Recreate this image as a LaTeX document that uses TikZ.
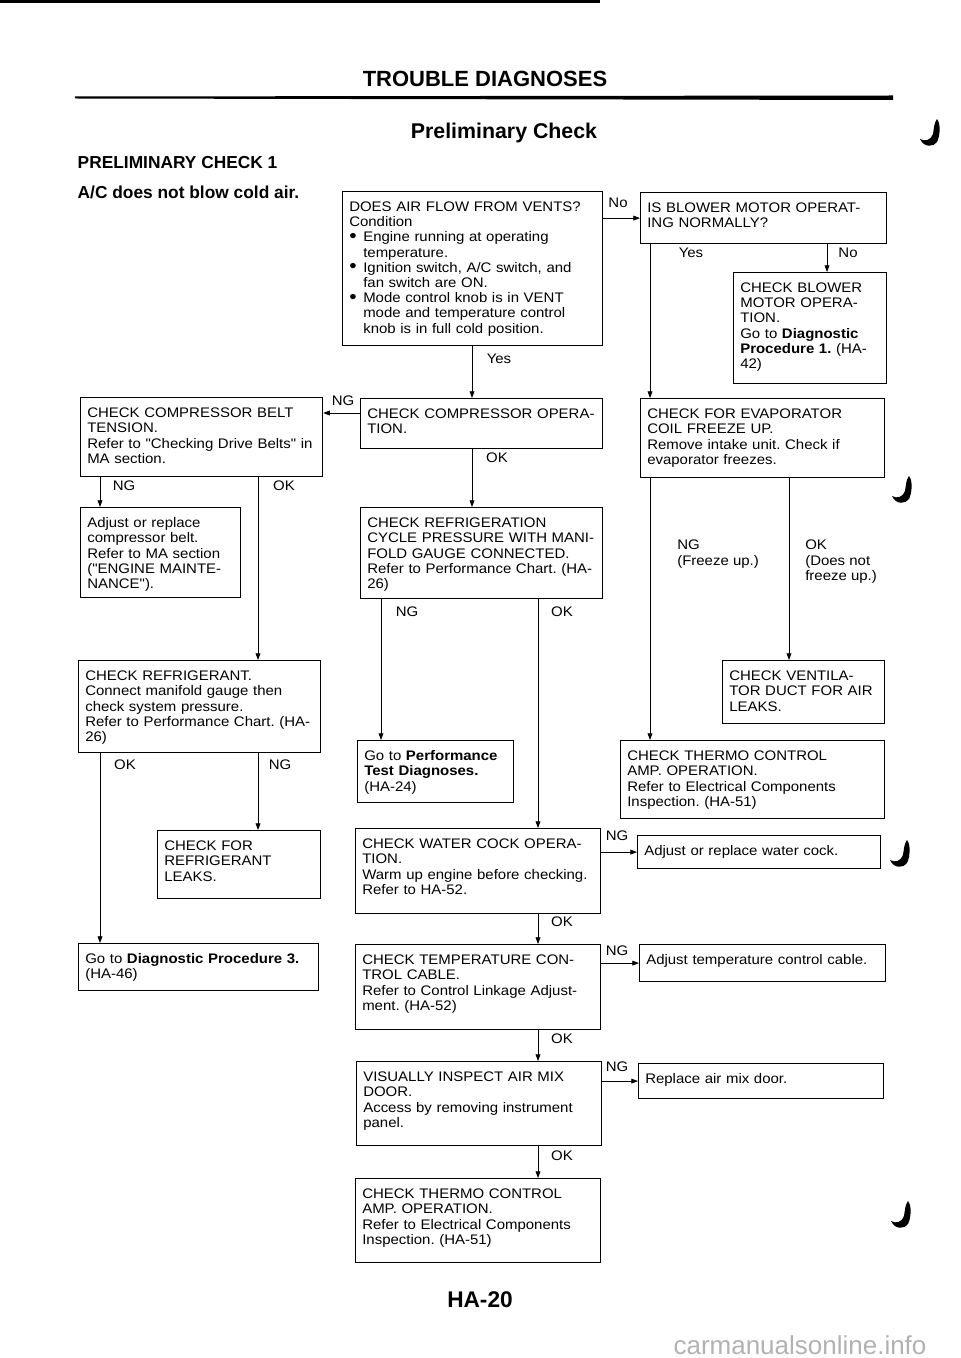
\documentclass[tikz,border=0pt]{standalone}
\usepackage{fontspec}
\setmainfont{Liberation Sans}
\newfontfamily\boxfont[FakeStretch=1.08]{Liberation Sans}
\usetikzlibrary{arrows.meta,calc}
\frenchspacing
\newcommand\blt{\makebox[10.5pt][l]{\raisebox{-0.4pt}{\scalebox{1.4}{\textbullet}}}}

\begin{document}
\begin{tikzpicture}[x=0.75pt, y=-0.75pt,
  stepbox/.style={draw, line width=0.9pt, anchor=north west, align=left,
    inner xsep=5pt, inner ysep=0pt, text height=15pt,
    font=\boxfont\fontsize{10.4}{11.4}\selectfont},
  box/.style 2 args={stepbox, text width=#1pt, text depth=#2pt},
  lbl/.style={font=\boxfont\fontsize{10.4}{11.4}\selectfont, inner sep=0pt, align=left},
  arr/.style={line width=0.6pt, -{Triangle[length=5pt, width=3.6pt]}},
  jmark/.pic={
    \fill (3,-17) .. controls (7,-12) and (6,0) .. (3,6)
      .. controls (0,11) and (-10,12) .. (-14,3)
      .. controls (-9,6) and (-3,4) .. (-1,-2)
      .. controls (0,-8) and (0,-13) .. (3,-17) -- cycle;}
]
  \useasboundingbox (0,0) rectangle (960,1358);

  % === INTESTAZIONE ===
  \fill (0,0) rectangle (600,3);
  \node[font=\bfseries\fontsize{16.5}{18}\selectfont] (title) at (485,79) {TROUBLE DIAGNOSES};
  \fill (75,96.5) -- (893,95.5) -- (893,100) -- (75,98.5) -- cycle;
  \node[font=\bfseries\fontsize{16}{18}\selectfont] (subtitle) at (504,133) {Preliminary Check};
  \node[font=\bfseries\fontsize{13}{15}\selectfont, anchor=west] (check) at (73,163) {PRELIMINARY CHECK 1};
  \node[font=\bfseries\fontsize{13}{15}\selectfont, anchor=west] (symptom) at (73,192) {A/C does not blow cold air.};

  % === COLONNA CENTRALE ===
  \node[box={185}{100.5}] (airflow) at (342,191) {DOES AIR FLOW FROM VENTS?\\Condition\\
    \blt Engine running at operating\\\hspace*{10.5pt}temperature.\\
    \blt Ignition switch, A/C switch, and\\\hspace*{10.5pt}fan switch are ON.\\
    \blt Mode control knob is in VENT\\\hspace*{10.5pt}mode and temperature control\\\hspace*{10.5pt}knob is in full cold position.};
  \node[box={171.5}{22.5}] (compop) at (360,398) {CHECK COMPRESSOR OPERA-\\TION.};
  \node[box={171.5}{53.25}] (refcycle) at (360,507) {CHECK REFRIGERATION\\CYCLE PRESSURE WITH MANI-\\FOLD GAUGE CONNECTED.\\Refer to Performance Chart. (HA-\\26)};
  \node[box={107}{31.5}] (perftest) at (357,740) {Go to \textbf{Performance}\\\textbf{Test Diagnoses.}\\(HA-24)};
  \node[box={173.75}{48.75}] (watercock) at (355,828) {CHECK WATER COCK OPERA-\\TION.\\Warm up engine before checking.\\Refer to HA-52.};
  \node[box={173.75}{48.75}] (tempcable) at (355,944) {CHECK TEMPERATURE CON-\\TROL CABLE.\\Refer to Control Linkage Adjust-\\ment. (HA-52)};
  \node[box={173.75}{48}] (airmix) at (356,1061) {VISUALLY INSPECT AIR MIX\\DOOR.\\Access by removing instrument\\panel.};
  \node[box={173.75}{48}] (thermoB) at (355,1178) {CHECK THERMO CONTROL\\AMP. OPERATION.\\Refer to Electrical Components\\Inspection. (HA-51)};

  % === COLONNA SINISTRA ===
  \node[box={171.5}{44.25}] (belt) at (80,397) {CHECK COMPRESSOR BELT\\TENSION.\\Refer to "Checking Drive Belts" in\\MA section.};
  \node[box={110}{52.5}] (adjbelt) at (80,507) {Adjust or replace\\compressor belt.\\Refer to MA section\\("ENGINE MAINTE-\\NANCE").};
  \node[box={171.5}{54}] (refrig) at (78,660) {CHECK REFRIGERANT.\\Connect manifold gauge then\\check system pressure.\\Refer to Performance Chart. (HA-\\26)};
  \node[box={112.25}{36}] (leaks) at (157,830) {CHECK FOR\\REFRIGERANT\\LEAKS.};
  \node[box={170}{20.25}] (diag3) at (78,943) {Go to \textbf{Diagnostic Procedure 3.}\\(HA-46)};

  % === COLONNA DESTRA ===
  \node[box={174.5}{23.25}] (blower) at (640,192) {IS BLOWER MOTOR OPERAT-\\ING NORMALLY?};
  \node[box={104.75}{68.25}] (chkblower) at (733,272) {CHECK BLOWER\\MOTOR OPERA-\\TION.\\Go to \textbf{Diagnostic}\\\textbf{Procedure 1.} (HA-\\42)};
  \node[box={173}{44.25}] (evap) at (640,398) {CHECK FOR EVAPORATOR\\COIL FREEZE UP.\\Remove intake unit. Check if\\evaporator freezes.};
  \node[box={111.5}{32.25}] (ventduct) at (722,660) {CHECK VENTILA-\\TOR DUCT FOR AIR\\LEAKS.};
  \node[box={188}{43.5}] (thermoR) at (620,740) {CHECK THERMO CONTROL\\AMP. OPERATION.\\Refer to Electrical Components\\Inspection. (HA-51)};
  \node[box={172.25}{9.75}] (adjwc) at (637,835) {Adjust or replace water cock.};
  \node[box={174.5}{12.75}] (adjtemp) at (639,944) {Adjust temperature control cable.};
  \node[box={173.75}{11.25}] (repdoor) at (638,1063) {Replace air mix door.};

  % Colonne dei collegamenti
  \coordinate (cM) at (472,0);
  \coordinate (cBeltNG) at (100,0);
  \coordinate (cBeltOK) at (258,0);
  \coordinate (cRefL) at (100,0);
  \coordinate (cCycNG) at (381,0);
  \coordinate (cCycOK) at (538,0);
  \coordinate (cYes) at (650,0);
  \coordinate (cNo) at (827,0);
  \coordinate (cEvapOK) at (789,0);
  \coordinate (rNG) at (0,413);

  % Collegamenti
  \draw[arr] (blower.west -| airflow.east) -- (blower.west);
  \draw[arr] (blower.south -| cYes) -- (evap.north -| cYes);
  \draw[arr] (blower.south -| cNo) -- (chkblower.north -| cNo);
  \draw[arr] (airflow.south -| cM) -- (compop.north -| cM);
  \draw[arr] (compop.west |- rNG) -- (belt.east |- rNG);
  \draw[arr] (compop.south -| cM) -- (refcycle.north -| cM);
  \draw[arr] (belt.south -| cBeltNG) -- (adjbelt.north -| cBeltNG);
  \draw[arr] (belt.south -| cBeltOK) -- (refrig.north -| cBeltOK);
  \draw[arr] (refrig.south -| cRefL) -- (diag3.north -| cRefL);
  \draw[arr] (refrig.south -| cBeltOK) -- (leaks.north -| cBeltOK);
  \draw[arr] (refcycle.south -| cCycNG) -- (perftest.north -| cCycNG);
  \draw[arr] (refcycle.south -| cCycOK) -- (watercock.north -| cCycOK);
  \draw[arr] (evap.south -| cYes) -- (thermoR.north -| cYes);
  \draw[arr] (evap.south -| cEvapOK) -- (ventduct.north -| cEvapOK);
  \draw[arr] (adjwc.west -| watercock.east) -- (adjwc.west);
  \draw[arr] (watercock.south -| cCycOK) -- (tempcable.north -| cCycOK);
  \draw[arr] (adjtemp.west -| tempcable.east) -- (adjtemp.west);
  \draw[arr] (tempcable.south -| cCycOK) -- (airmix.north -| cCycOK);
  \draw[arr] (repdoor.west -| airmix.east) -- (repdoor.west);
  \draw[arr] (airmix.south -| cCycOK) -- (thermoB.north -| cCycOK);

  % Etichette
  \node[lbl] (lNo1) at (618,203) {No};
  \node[lbl] (lYes1) at (499,359) {Yes};
  \node[lbl] (lYes2) at (691,253) {Yes};
  \node[lbl] (lNo2) at (848,253) {No};
  \node[lbl] (lNG1) at (343,401) {NG};
  \node[lbl] (lOK1) at (497,458) {OK};
  \node[lbl] (lNG2) at (124,486) {NG};
  \node[lbl] (lOK2) at (284,486) {OK};
  \node[lbl] (lNG3) at (407,612) {NG};
  \node[lbl] (lOK3) at (562,612) {OK};
  \node[lbl, anchor=north west] (lNG4) at (677,540) {NG\\(Freeze up.)};
  \node[lbl, anchor=north west] (lOK4) at (805,540) {OK\\(Does not\\freeze up.)};
  \node[lbl] (lOK5) at (125,765) {OK};
  \node[lbl] (lNG5) at (280,765) {NG};
  \node[lbl] (lNG6) at (617,836) {NG};
  \node[lbl] (lOK6) at (562,922) {OK};
  \node[lbl] (lNG7) at (617,951) {NG};
  \node[lbl] (lOK7) at (562,1039) {OK};
  \node[lbl] (lNG8) at (617,1067) {NG};
  \node[lbl] (lOK8) at (562,1156) {OK};

  % === PIEDE PAGINA ===
  \node[font=\bfseries\fontsize{17}{19}\selectfont] (page) at (480,1300) {HA-20};
  \node[font=\fontsize{19.5}{22}\selectfont, text=gray!60] (site) at (800,1345) {carmanualsonline.info};

  % Segni di rilegatura
  \pic at (934,136) {jmark};
  \pic at (906,493) {jmark};
  \pic at (904,857) {jmark};
  \pic at (905,1218) {jmark};
\end{tikzpicture}
\end{document}
